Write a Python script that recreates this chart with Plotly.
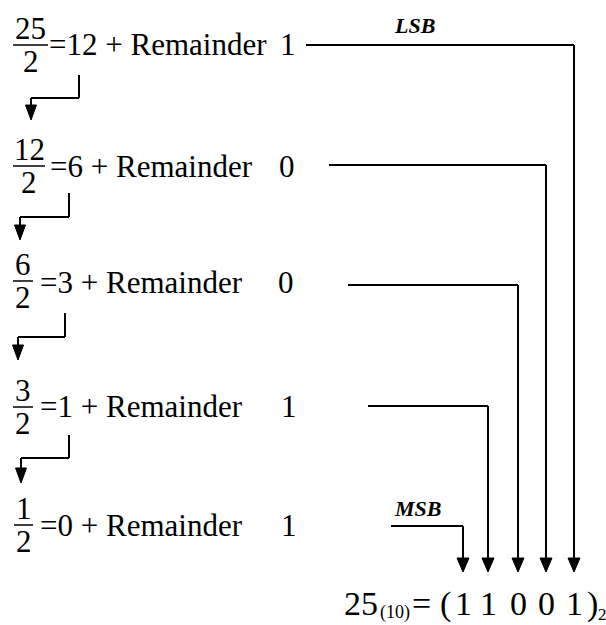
import plotly.graph_objects as go

# ---- data ----
dividends = [25, 12, 6, 3, 1]
divisor = 2
quotients = [12, 6, 3, 1, 0]
remainders = [1, 0, 0, 1, 1]
decimal_value = "25"
base_in = "(10)"
base_out = "2"
lsb_label = "LSB"
msb_label = "MSB"

# ---- layout (pixel coordinates) ----
W, H = 606, 625
FONT = "Liberation Serif"
FS = 31
row_baseline = [55, 177, 293, 417, 536]
bar_y = [45, 166, 281, 407, 525]
bar_x = [(13, 48), (13, 45), (13, 33), (13, 33), (14, 33)]
eq_x = [49, 50, 40, 40, 40]
rem_x = [288, 287, 286, 289, 289]
brackets = [(79, 75, 98, 31, 120), (69, 193, 217, 20, 240),
            (65, 313, 337, 18, 360), (69, 435, 458, 21, 483)]
lead_start = [(306, 45), (329, 165), (348, 285), (368, 406), (391, 526)]
bit_x = [574, 546, 518, 488, 463]  # LSB ... MSB
arrow_tip = 572

fig = go.Figure()
shapes = []
ann = []

def text(x, baseline, s, size=FS, xanchor="center", bold=False, italic=False):
    t = s
    if bold:
        t = "<b>" + t + "</b>"
    if italic:
        t = "<i>" + t + "</i>"
    ann.append(dict(x=x, y=baseline - 0.3375 * size, xref="x", yref="y", text=t,
                    showarrow=False, xanchor=xanchor, yanchor="middle",
                    font=dict(family=FONT, size=size, color="black"),
                    borderpad=0, borderwidth=0))

def line(x0, y0, x1, y1, w=2):
    shapes.append(dict(type="line", x0=x0, y0=y0, x1=x1, y1=y1, xref="x", yref="y",
                       line=dict(color="black", width=w)))

def head(x, tip, hw, hh):
    shapes.append(dict(type="path", xref="x", yref="y",
                       path=f"M {x - hw/2},{tip - hh} L {x + hw/2},{tip - hh} L {x},{tip} Z",
                       fillcolor="black", line=dict(color="black", width=1)))

for i in range(5):
    bx0, bx1 = bar_x[i]
    cx = (bx0 + bx1) / 2
    line(bx0, bar_y[i], bx1, bar_y[i], 1.5)
    text(cx, bar_y[i] - 6, str(dividends[i]))
    text(cx, bar_y[i] + 27, str(divisor))
    text(eq_x[i], row_baseline[i], f"={quotients[i]} + Remainder", xanchor="left")
    text(rem_x[i], row_baseline[i], str(remainders[i]))
    sx, sy = lead_start[i]
    line(sx, sy, bit_x[i], sy)
    line(bit_x[i], sy, bit_x[i], arrow_tip - 13)
    head(bit_x[i], arrow_tip, 12, 14)

for (vx, vy0, hy, ax, tip) in brackets:
    line(vx, vy0, vx, hy)
    line(ax, hy, vx, hy)
    line(ax, hy, ax, tip - 13)
    head(ax, tip, 11, 15)

text(414, 33, lsb_label, size=22, bold=True, italic=True)
text(417, 516, msb_label, size=22, bold=True, italic=True)

bits = remainders[::-1]
text(378, 615, decimal_value, size=34, xanchor="right")
text(395, 619, base_in, size=18)
text(421, 615, "=", size=34)
text(445, 615, "(", size=34)
for b, x in zip(bits, bit_x[::-1]):
    text(x, 615, str(b), size=34)
text(592, 615, ")", size=34)
text(602, 620, base_out, size=17)

fig.update_layout(
    width=W, height=H, margin=dict(l=0, r=0, t=0, b=0),
    paper_bgcolor="white", plot_bgcolor="white",
    xaxis=dict(range=[0, W], visible=False, fixedrange=True),
    yaxis=dict(range=[H, 0], visible=False, fixedrange=True),
    shapes=shapes, annotations=ann, showlegend=False,
)
fig.write_html("out.html", config={"displayModeBar": False},
               post_script="document.body.style.margin='0';document.body.style.overflow='hidden';")
